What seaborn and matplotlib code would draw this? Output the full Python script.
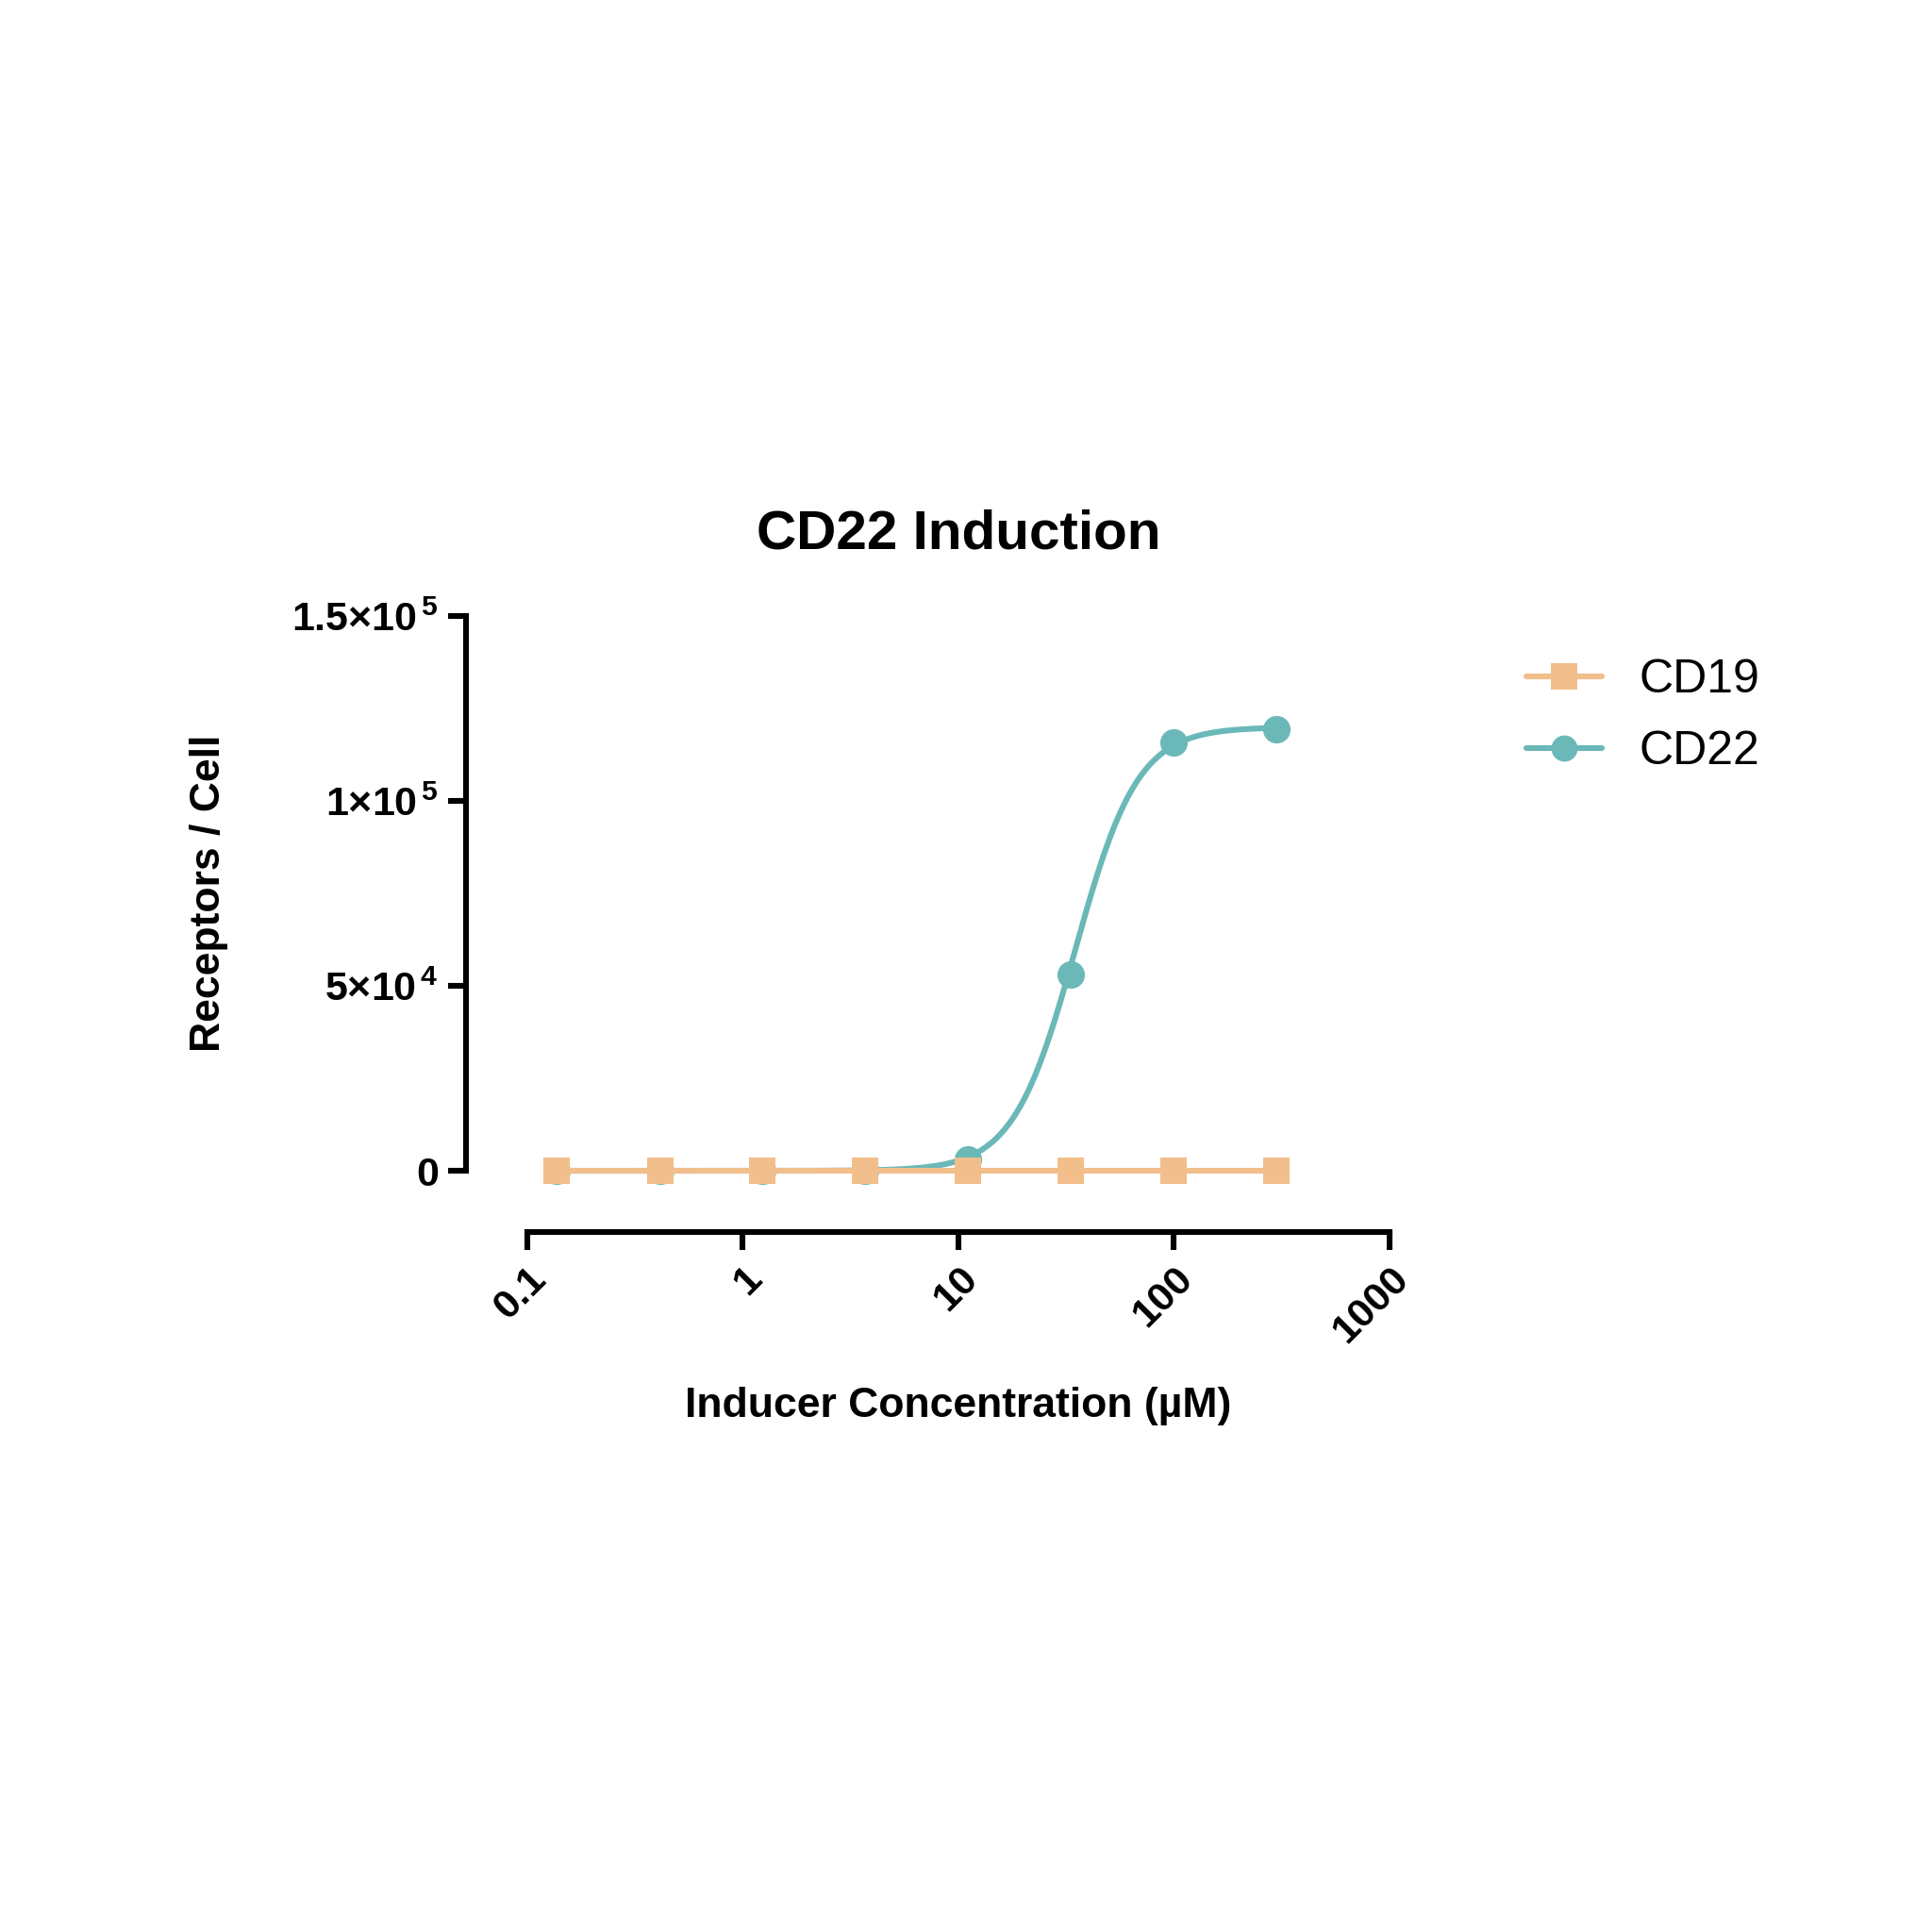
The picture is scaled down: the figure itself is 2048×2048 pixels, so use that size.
import numpy as np
import matplotlib
matplotlib.use("Agg")
import matplotlib.pyplot as plt
import seaborn as sns
from matplotlib.ticker import FixedLocator, FixedFormatter

# data
conc = [0.137, 0.412, 1.23, 3.70, 11.1, 33.3, 100, 300]
cd19 = [0, 0, 0, 0, 0, 0, 0, 0]
cd22 = [0, 0, 0, 0, 3000, 53000, 116000, 119500]
# 4PL fit parameters for CD22
fit_bottom, fit_top, fit_ec50, fit_hill = 0, 120000, 35, 3.0

sns.set_theme(style="ticks")
plt.rcParams['font.family'] = ['Liberation Sans', 'DejaVu Sans']
plt.rcParams['mathtext.fontset'] = 'custom'
plt.rcParams['mathtext.rm'] = 'Liberation Sans:bold'
plt.rcParams['mathtext.it'] = 'Liberation Sans:bold'
plt.rcParams['mathtext.bf'] = 'Liberation Sans:bold'
plt.rcParams['text.color'] = 'black'
plt.rcParams['xtick.color'] = 'black'
plt.rcParams['ytick.color'] = 'black'
plt.rcParams['axes.labelcolor'] = 'black'

orange = '#F2BE8C'
teal = '#6BB8B8'

fig = plt.figure(figsize=(10.24, 10.24), dpi=200)
ax = fig.add_axes([0.273, 0.394, 0.446, 0.287])

xs = np.logspace(np.log10(conc[0]), np.log10(conc[-1]), 300)
ys = fit_bottom + (fit_top - fit_bottom) / (1 + (fit_ec50 / xs) ** fit_hill)
ax.plot(xs, ys, color=teal, lw=2.2, clip_on=False, zorder=2)
sns.scatterplot(x=conc, y=cd22, ax=ax, color=teal, marker='o', s=110, linewidth=0,
                clip_on=False, zorder=3)
sns.lineplot(x=conc, y=cd19, ax=ax, color=orange, lw=2.2, marker='s', markersize=10,
             markeredgewidth=0, label='CD19', clip_on=False, zorder=4)
# legend handle for CD22
ax.plot([], [], color=teal, lw=2.2, marker='o', markersize=10, markeredgewidth=0, label='CD22')

ax.set_xscale('log')
ax.set_xlim(0.1, 1000)
ax.set_ylim(0, 150000)
ax.xaxis.set_major_locator(FixedLocator([0.1, 1, 10, 100, 1000]))
ax.xaxis.set_major_formatter(FixedFormatter(['0.1', '1', '10', '100', '1000']))
ax.xaxis.set_minor_locator(FixedLocator([]))
ax.yaxis.set_major_locator(FixedLocator([0, 50000, 100000, 150000]))
ax.yaxis.set_major_formatter(FixedFormatter(['0', r'$5{\times}10^{\,4}$', r'$1{\times}10^{\,5}$',
                                             r'$1.5{\times}10^{\,5}$']))

for s in ['top', 'right']:
    ax.spines[s].set_visible(False)
ax.spines['left'].set_position(('outward', 23.5))
ax.spines['bottom'].set_position(('outward', 23.5))
for s in ['left', 'bottom']:
    ax.spines[s].set_linewidth(2.2)
    ax.spines[s].set_color('black')
ax.tick_params(width=2.2, length=7, color='black', labelsize=15.5)
for lab in ax.get_xticklabels():
    lab.set_rotation(45)
    lab.set_ha('right')
    lab.set_rotation_mode('anchor')
for lab in ax.get_xticklabels() + ax.get_yticklabels():
    lab.set_fontweight('bold')

ax.set_title('CD22 Induction', fontsize=21, fontweight='bold', pad=26)
ax.set_xlabel('Inducer Concentration (µM)', fontsize=16, fontweight='bold', labelpad=14)
ax.set_ylabel('Receptors / Cell', fontsize=16, fontweight='bold', labelpad=24)

ax.legend(loc='upper left', bbox_to_anchor=(1.11, 1.0), frameon=False, fontsize=18,
          handlelength=1.6, labelspacing=0.6)

fig.savefig('out.png', dpi=200)
